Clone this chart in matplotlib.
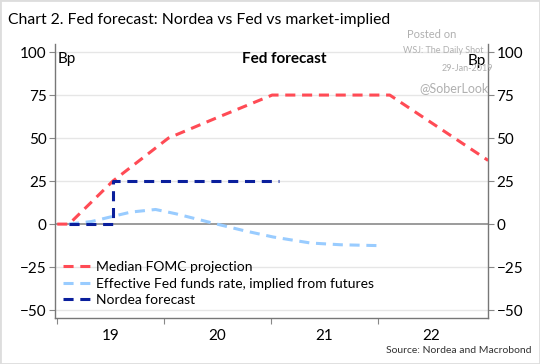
import numpy as np
import matplotlib
matplotlib.use("Agg")
import matplotlib.pyplot as plt
from matplotlib.patches import Rectangle

plt.rcParams['font.family'] = ['Lato', 'DejaVu Sans']

# Median FOMC projection (Bp)
fomc_x = [2019.0, 2019.11, 2019.52, 2020.04, 2020.5, 2021.01, 2022.11, 2023.03]
fomc_y = [0, 0, 25, 50, 62, 75, 75, 37]

# Effective Fed funds rate, implied from futures (Bp)
eff_x = [2019.11, 2019.32, 2019.52, 2019.69, 2019.92, 2020.11, 2020.46, 2020.76, 2021.02, 2021.37, 2021.65, 2022.0]
eff_y = [0, 1.5, 4.5, 7, 8.5, 6, 0.5, -4, -7.5, -11, -12, -12.5]

# Nordea forecast (Bp)
nordea_x = [2019.11, 2019.52, 2019.52, 2021.07]
nordea_y = [0, 0, 25, 25]

year_labels = ["19", "20", "21", "22"]
yticks = [-50, -25, 0, 25, 50, 75, 100]

RED = "#ff4b55"
LIGHT = "#99ccff"
NAVY = "#0a1f9c"

fig = plt.figure(figsize=(5.4, 3.64), dpi=100)
ax = fig.add_axes([0.102, 0.126, 0.802, 0.753])

for y in yticks:
    if y == 0:
        ax.axhline(y, color="#8a8a8a", lw=1.2, zorder=1)
    else:
        ax.axhline(y, color="#e6e6e6", lw=1.0, zorder=0)

ax.plot(fomc_x, fomc_y, color=RED, lw=2.2, dashes=(3.3, 2.2), label="Median FOMC projection", zorder=3)
ax.plot(eff_x, eff_y, color=LIGHT, lw=2.2, dashes=(3.3, 2.2), label="Effective Fed funds rate, implied from futures", zorder=3)
ax.plot(nordea_x, nordea_y, color=NAVY, lw=2.2, dashes=(3.3, 2.2), label="Nordea forecast", zorder=4)

ax.set_xlim(2018.98, 2023.03)
ax.set_ylim(-54.65, 104.65)

ax.set_yticks(yticks)
ax.tick_params(axis="y", which="both", left=True, right=True, labelleft=True, labelright=True,
               direction="out", length=4, color="#888888", labelsize=11, pad=2)

# year boundaries as ticks, labels in between
ax.set_xticks([2019, 2020, 2021, 2022])
ax.set_xticklabels([])
ax.set_xticks([2019.5, 2020.5, 2021.5, 2022.5], minor=True)
ax.set_xticklabels(year_labels, minor=True)
ax.tick_params(axis="x", which="major", direction="out", length=4, color="#888888")
ax.tick_params(axis="x", which="minor", length=0, labelsize=11, pad=8)

for s in ["left", "right", "bottom"]:
    ax.spines[s].set_color("#777777")
    ax.spines[s].set_linewidth(1.0)
ax.spines["top"].set_visible(False)

ax.text(0.006, 0.972, "Bp", transform=ax.transAxes, fontsize=11, va="top", ha="left")
ax.text(0.995, 0.962, "Bp", transform=ax.transAxes, fontsize=11, va="top", ha="right")
ax.text(0.53, 0.972, "Fed forecast", transform=ax.transAxes, fontsize=11, fontweight="bold", va="top", ha="center")

leg = ax.legend(loc="lower left", bbox_to_anchor=(-0.005, 0.01), frameon=False, fontsize=10,
                handlelength=2.2, handletextpad=0.2, labelspacing=0.3, borderaxespad=0.3)

fig.text(0.015, 0.945, "Chart 2. Fed forecast: Nordea vs Fed vs market-implied", fontsize=11.3, ha="left", va="center")
fig.text(0.985, 0.038, "Source: Nordea and Macrobond", fontsize=7.5, ha="right", va="center", color="#333333")

# watermark
fig.text(0.80, 0.905, "Posted on", fontsize=8, color="#b0b0b0", ha="center", va="center")
fig.text(0.82, 0.86, "WSJ: The Daily Shot", fontsize=6.5, color="#b0b0b0", ha="center", va="center")
fig.text(0.865, 0.813, "29-Jan-2019", fontsize=6.5, color="#b0b0b0", ha="center", va="center")
fig.text(0.84, 0.757, "@SoberLook", fontsize=9, color="#b0b0b0", ha="center", va="center")

fig.patches.append(Rectangle((0, 0), 1, 1, transform=fig.transFigure, fill=False,
                             edgecolor="#dddddd", lw=2))

fig.savefig("out.png", dpi=100)
